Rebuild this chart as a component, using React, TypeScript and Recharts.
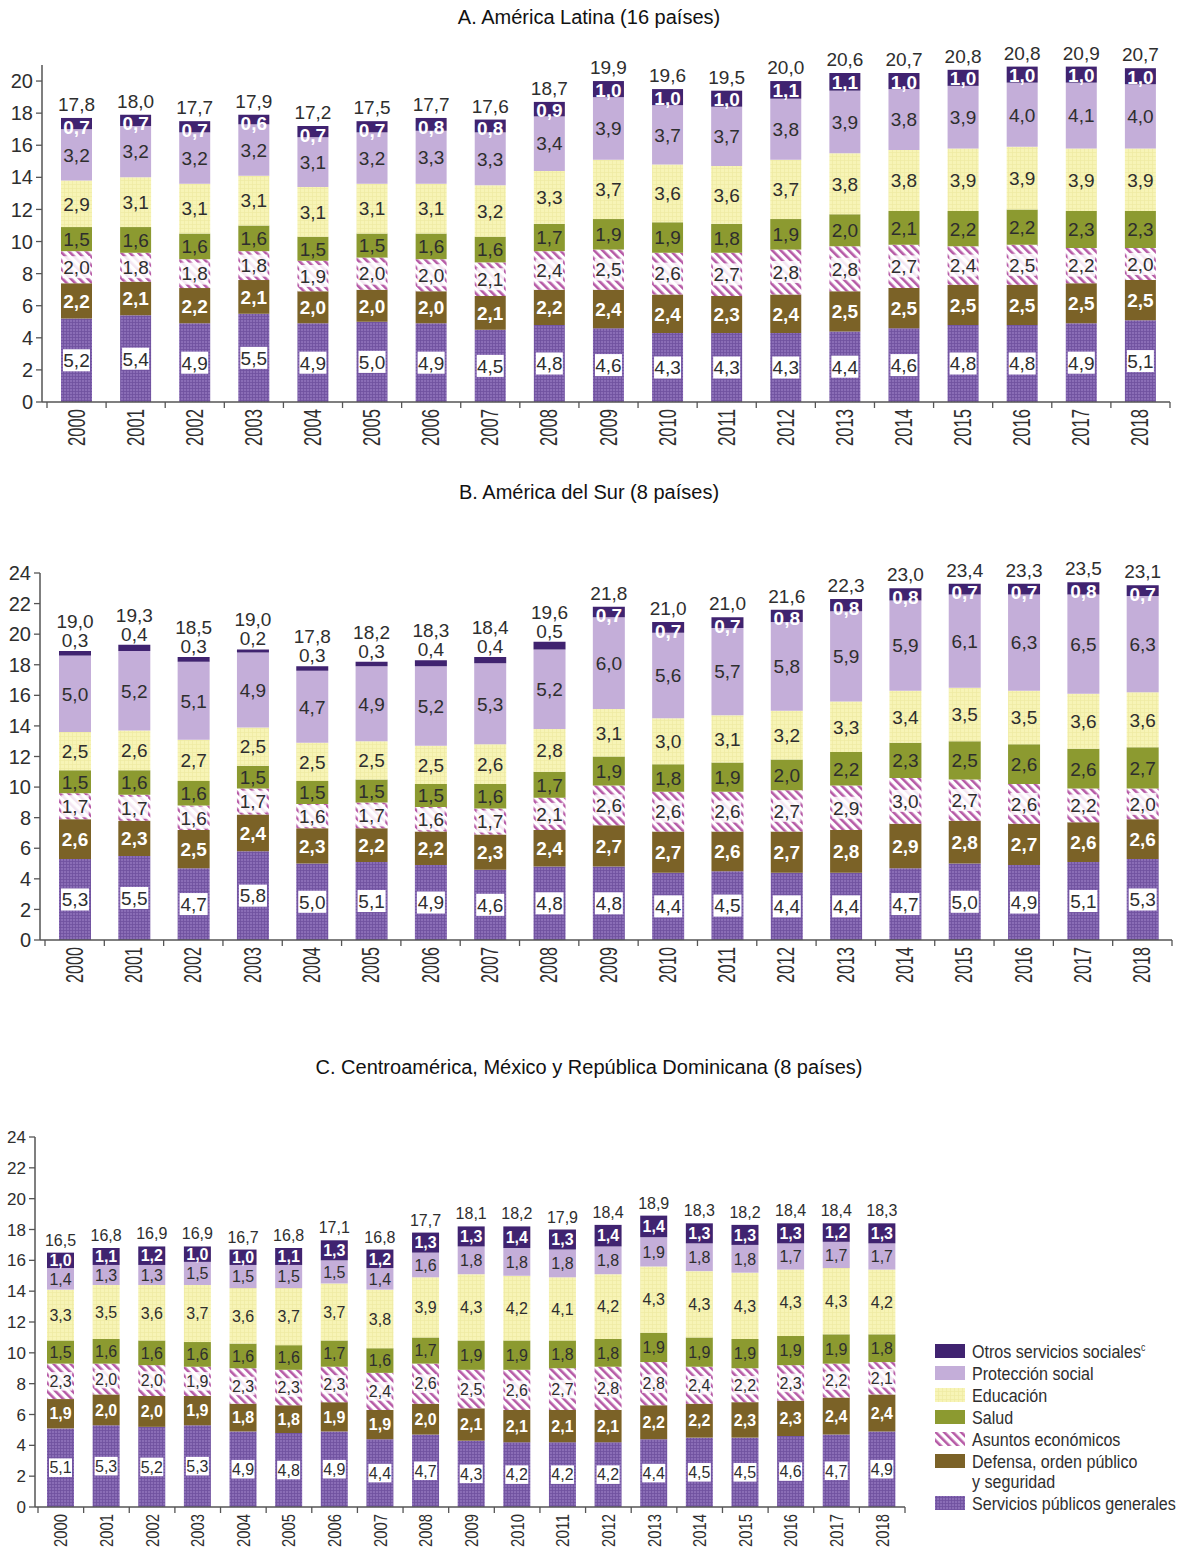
import React from 'react';
import { BarChart, Bar, XAxis, YAxis, LabelList } from 'recharts';

const years = ['2000','2001','2002','2003','2004','2005','2006','2007','2008','2009','2010','2011','2012','2013','2014','2015','2016','2017','2018'];

// Panel A. América Latina (16 países)
const A_serv = [5.2,5.4,4.9,5.5,4.9,5.0,4.9,4.5,4.8,4.6,4.3,4.3,4.3,4.4,4.6,4.8,4.8,4.9,5.1];
const A_def = [2.2,2.1,2.2,2.1,2.0,2.0,2.0,2.1,2.2,2.4,2.4,2.3,2.4,2.5,2.5,2.5,2.5,2.5,2.5];
const A_asun = [2.0,1.8,1.8,1.8,1.9,2.0,2.0,2.1,2.4,2.5,2.6,2.7,2.8,2.8,2.7,2.4,2.5,2.2,2.0];
const A_sal = [1.5,1.6,1.6,1.6,1.5,1.5,1.6,1.6,1.7,1.9,1.9,1.8,1.9,2.0,2.1,2.2,2.2,2.3,2.3];
const A_edu = [2.9,3.1,3.1,3.1,3.1,3.1,3.1,3.2,3.3,3.7,3.6,3.6,3.7,3.8,3.8,3.9,3.9,3.9,3.9];
const A_prot = [3.2,3.2,3.2,3.2,3.1,3.2,3.3,3.3,3.4,3.9,3.7,3.7,3.8,3.9,3.8,3.9,4.0,4.1,4.0];
const A_otros = [0.7,0.7,0.7,0.6,0.7,0.7,0.8,0.8,0.9,1.0,1.0,1.0,1.1,1.1,1.0,1.0,1.0,1.0,1.0];
const A_total = [17.8,18.0,17.7,17.9,17.2,17.5,17.7,17.6,18.7,19.9,19.6,19.5,20.0,20.6,20.7,20.8,20.8,20.9,20.7];

// Panel B. América del Sur (8 países)
const B_serv = [5.3,5.5,4.7,5.8,5.0,5.1,4.9,4.6,4.8,4.8,4.4,4.5,4.4,4.4,4.7,5.0,4.9,5.1,5.3];
const B_def = [2.6,2.3,2.5,2.4,2.3,2.2,2.2,2.3,2.4,2.7,2.7,2.6,2.7,2.8,2.9,2.8,2.7,2.6,2.6];
const B_asun = [1.7,1.7,1.6,1.7,1.6,1.7,1.6,1.7,2.1,2.6,2.6,2.6,2.7,2.9,3.0,2.7,2.6,2.2,2.0];
const B_sal = [1.5,1.6,1.6,1.5,1.5,1.5,1.5,1.6,1.7,1.9,1.8,1.9,2.0,2.2,2.3,2.5,2.6,2.6,2.7];
const B_edu = [2.5,2.6,2.7,2.5,2.5,2.5,2.5,2.6,2.8,3.1,3.0,3.1,3.2,3.3,3.4,3.5,3.5,3.6,3.6];
const B_prot = [5.0,5.2,5.1,4.9,4.7,4.9,5.2,5.3,5.2,6.0,5.6,5.7,5.8,5.9,5.9,6.1,6.3,6.5,6.3];
const B_otros = [0.3,0.4,0.3,0.2,0.3,0.3,0.4,0.4,0.5,0.7,0.7,0.7,0.8,0.8,0.8,0.7,0.7,0.8,0.7];
const B_total = [19.0,19.3,18.5,19.0,17.8,18.2,18.3,18.4,19.6,21.8,21.0,21.0,21.6,22.3,23.0,23.4,23.3,23.5,23.1];

// Panel C. Centroamérica, México y República Dominicana (8 países)
const C_serv = [5.1,5.3,5.2,5.3,4.9,4.8,4.9,4.4,4.7,4.3,4.2,4.2,4.2,4.4,4.5,4.5,4.6,4.7,4.9];
const C_def = [1.9,2.0,2.0,1.9,1.8,1.8,1.9,1.9,2.0,2.1,2.1,2.1,2.1,2.2,2.2,2.3,2.3,2.4,2.4];
const C_asun = [2.3,2.0,2.0,1.9,2.3,2.3,2.3,2.4,2.6,2.5,2.6,2.7,2.8,2.8,2.4,2.2,2.3,2.2,2.1];
const C_sal = [1.5,1.6,1.6,1.6,1.6,1.6,1.7,1.6,1.7,1.9,1.9,1.8,1.8,1.9,1.9,1.9,1.9,1.9,1.8];
const C_edu = [3.3,3.5,3.6,3.7,3.6,3.7,3.7,3.8,3.9,4.3,4.2,4.1,4.2,4.3,4.3,4.3,4.3,4.3,4.2];
const C_prot = [1.4,1.3,1.3,1.5,1.5,1.5,1.5,1.4,1.6,1.8,1.8,1.8,1.8,1.9,1.8,1.8,1.7,1.7,1.7];
const C_otros = [1.0,1.1,1.2,1.0,1.0,1.1,1.3,1.2,1.3,1.3,1.4,1.3,1.4,1.4,1.3,1.3,1.3,1.2,1.3];
const C_total = [16.5,16.8,16.9,16.9,16.7,16.8,17.1,16.8,17.7,18.1,18.2,17.9,18.4,18.9,18.3,18.2,18.4,18.4,18.3];

const ticksA = [0,2,4,6,8,10,12,14,16,18,20];
const ticksBC = [0,2,4,6,8,10,12,14,16,18,20,22,24];

const SERIES = [
  { key: 'serv', name: 'Servicios públicos generales', fill: 'url(#pServ)' },
  { key: 'def', name: 'Defensa, orden público|y seguridad', fill: '#7b6227' },
  { key: 'asun', name: 'Asuntos económicos', fill: 'url(#pAsun)' },
  { key: 'sal', name: 'Salud', fill: '#8c9a30' },
  { key: 'edu', name: 'Educación', fill: 'url(#pEdu)' },
  { key: 'prot', name: 'Protección social', fill: '#c4aed9' },
  { key: 'otros', name: 'Otros servicios sociales', fill: '#402370' },
];

function build(serv: number[], def: number[], asun: number[], sal: number[], edu: number[], prot: number[], otros: number[], total: number[]) {
  return years.map((y, i) => ({
    year: y, serv: serv[i], def: def[i], asun: asun[i], sal: sal[i], edu: edu[i], prot: prot[i], otros: otros[i], total: total[i],
  }));
}

const dataA = build(A_serv, A_def, A_asun, A_sal, A_edu, A_prot, A_otros, A_total);
const dataB = build(B_serv, B_def, B_asun, B_sal, B_edu, B_prot, B_otros, B_total);
const dataC = build(C_serv, C_def, C_asun, C_sal, C_edu, C_prot, C_otros, C_total);

const FONT = '"Liberation Sans", Arial, sans-serif';
const TXT = '#2e2e2e';
const fmt = (v: number) => v.toFixed(1).replace('.', ',');

function geom(p: any) {
  const vb = p.viewBox && typeof p.viewBox.width === 'number' ? p.viewBox : p;
  return { x: Number(vb.x), y: Number(vb.y), width: Number(vb.width), height: Number(vb.height) };
}

function makeLabel(kind: string, fs: number) {
  return (p: any) => {
    const { x, y, width, height } = geom(p);
    const v = Number(p.value);
    if (!isFinite(v) || !isFinite(x)) return null;
    const cx = x + width / 2;
    const cy = y + height / 2;
    const t = fmt(v);
    const tw = fs * 1.39;
    if (kind === 'serv' || kind === 'asun') {
      const bw = kind === 'serv' ? Math.min(width - 4, tw + 5) : tw + 1;
      return (
        <g>
          <rect x={cx - bw / 2} y={cy - fs * 0.58} width={bw} height={fs * 1.16} fill="#fff" opacity={kind === 'serv' ? 1 : 0.85} />
          <text x={cx} y={cy} dy="0.36em" textAnchor="middle" fontSize={fs} fill={TXT} fontFamily={FONT}>{t}</text>
        </g>
      );
    }
    if (kind === 'def') {
      return <text x={cx} y={cy} dy="0.36em" textAnchor="middle" fontSize={fs} fontWeight="bold" fill="#fff" fontFamily={FONT}>{t}</text>;
    }
    if (kind === 'otros') {
      if (v < 0.6) {
        return <text x={cx} y={y - 4} textAnchor="middle" fontSize={fs} fill={TXT} fontFamily={FONT}>{t}</text>;
      }
      const base = y + Math.max(height / 2 + 0.36 * fs, 0.82 * fs);
      return <text x={cx} y={base} textAnchor="middle" fontSize={fs} fontWeight="bold" fill="#fff" fontFamily={FONT}>{t}</text>;
    }
    return <text x={cx} y={cy} dy="0.36em" textAnchor="middle" fontSize={fs} fill={TXT} fontFamily={FONT}>{t}</text>;
  };
}

function makeTotal(fs: number, data: any[]) {
  return (p: any) => {
    const { x, y, width } = geom(p);
    const v = Number(p.value);
    const idx = Number(p.index);
    if (!isFinite(v) || !isFinite(x)) return null;
    const small = data[idx] && data[idx].otros < 0.6;
    const ty = small ? y - 4 - fs * 1.0 : y - 7;
    return <text x={x + width / 2} y={ty} textAnchor="middle" fontSize={fs} fill={TXT} fontFamily={FONT}>{fmt(v)}</text>;
  };
}

function YearTick(props: any) {
  const { x, y, payload, index, band, fs, len, count } = props;
  return (
    <g>
      <line x1={x - band / 2} x2={x - band / 2} y1={y} y2={y + 6} stroke="#555" strokeWidth={1.3} />
      {index === count - 1 ? <line x1={x + band / 2} x2={x + band / 2} y1={y} y2={y + 6} stroke="#555" strokeWidth={1.3} /> : null}
      <text
        transform={`translate(${x},${y + 7}) rotate(-90)`}
        textAnchor="end"
        dominantBaseline="central"
        fontSize={fs}
        fill={TXT}
        fontFamily={FONT}
        textLength={len}
        lengthAdjust="spacingAndGlyphs"
      >
        {payload.value}
      </text>
    </g>
  );
}

type PanelCfg = {
  data: any[];
  top: number;
  height: number;
  mTop: number;
  mBottom: number;
  xH: number;
  yW: number;
  right: number;
  padL: number;
  max: number;
  ticks: number[];
  barSize: number;
  fs: number;
  tfs: number;
  yfs: number;
  yearFs: number;
  yearLen: number;
};

function Panel(c: PanelCfg) {
  const plotW = 1178 - c.yW - c.right - c.padL;
  const band = plotW / years.length;
  return (
    <div style={{ position: 'absolute', left: 0, top: c.top }}>
      <BarChart
        width={1178}
        height={c.height}
        data={c.data}
        margin={{ top: c.mTop, right: c.right, left: 0, bottom: c.mBottom }}
        barSize={c.barSize}
      >
        <XAxis
          dataKey="year"
          height={c.xH}
          padding={{ left: c.padL, right: 0 }}
          axisLine={{ stroke: '#555', strokeWidth: 1.5 }}
          tickLine={false}
          tickSize={0}
          tickMargin={0}
          interval={0}
          tick={<YearTick band={band} fs={c.yearFs} len={c.yearLen} count={years.length} />}
        />
        <YAxis
          width={c.yW}
          domain={[0, c.max]}
          ticks={c.ticks}
          allowDataOverflow
          axisLine={{ stroke: '#555', strokeWidth: 1.5 }}
          tickLine={{ stroke: '#555', strokeWidth: 1.3 }}
          tickSize={6}
          tickMargin={3}
          tick={{ fontSize: c.yfs, fill: TXT, fontFamily: FONT }}
        />
        {SERIES.map((s) => (
          <Bar key={s.key} dataKey={s.key} stackId="a" fill={s.fill} isAnimationActive={false}>
            <LabelList dataKey={s.key} content={makeLabel(s.key, c.fs)} />
            {s.key === 'otros' ? <LabelList dataKey="total" content={makeTotal(c.tfs, c.data)} /> : null}
          </Bar>
        ))}
      </BarChart>
    </div>
  );
}

function Defs() {
  return (
    <svg width={0} height={0} style={{ position: 'absolute', left: 0, top: 0 }}>
      <defs>
        <pattern id="pServ" width="3" height="3" patternUnits="userSpaceOnUse">
          <rect width="3" height="3" fill="#8a6db6" />
          <path d="M0 0.5H3M0.5 0V3" stroke="#6e519e" strokeWidth="0.8" />
        </pattern>
        <pattern id="pAsun" width="6" height="6" patternUnits="userSpaceOnUse" patternTransform="rotate(-45)">
          <rect width="6" height="6" fill="#ffffff" />
          <rect width="2.6" height="6" fill="#b65aa6" />
        </pattern>
        <pattern id="pEdu" width="4" height="4" patternUnits="userSpaceOnUse">
          <rect width="4" height="4" fill="#f7f4b6" />
          <path d="M0 0.5H4M0.5 0V4" stroke="#eeeaa2" strokeWidth="0.7" />
        </pattern>
      </defs>
    </svg>
  );
}

function Title({ text, y }: { text: string; y: number }) {
  return (
    <div style={{ position: 'absolute', left: 0, top: y - 12, width: 1178, textAlign: 'center', fontFamily: FONT, fontSize: 20, color: '#111', lineHeight: '24px' }}>
      {text}
    </div>
  );
}

const legendOrder = ['otros', 'prot', 'edu', 'sal', 'asun', 'def', 'serv'];

function Legend() {
  const rows: any[] = [];
  let yy = 16;
  legendOrder.forEach((k) => {
    const s = SERIES.find((q) => q.key === k)!;
    const lines = s.name.split('|');
    rows.push(
      <g key={k}>
        <rect x={5} y={yy - 7} width={30} height={14} fill={s.fill} />
        <g transform={`translate(42,${yy}) scale(0.87,1)`}>
          {lines.map((ln, i) => (
            <text key={i} x={0} y={i * 20} dy="0.36em" fontSize={18.5} fill={TXT} fontFamily={FONT}>
              {ln}
              {k === 'otros' ? <tspan fontSize={10} dy={-7}>c</tspan> : null}
            </text>
          ))}
        </g>
      </g>
    );
    yy += 22 + (lines.length - 1) * 20;
  });
  return (
    <svg width={250} height={200} style={{ position: 'absolute', left: 930, top: 1335 }}>
      {rows}
    </svg>
  );
}

export default function App() {
  return (
    <div style={{ position: 'absolute', left: 0, top: 0, width: 1178, height: 1552, background: '#fff', overflow: 'hidden' }}>
      <Defs />
      <Title text="A. América Latina (16 países)" y={17} />
      <Panel data={dataA} top={40} height={420} mTop={25} mBottom={8} xH={50} yW={42} right={8} padL={5}
        max={21} ticks={ticksA} barSize={31} fs={19} tfs={19} yfs={20} yearFs={23} yearLen={37} />
      <Title text="B. América del Sur (8 países)" y={492} />
      <Panel data={dataB} top={540} height={460} mTop={33} mBottom={8} xH={52} yW={40} right={6} padL={5}
        max={24} ticks={ticksBC} barSize={32} fs={19} tfs={19} yfs={20} yearFs={23} yearLen={36} />
      <Title text="C. Centroamérica, México y República Dominicana (8 países)" y={1067} />
      <Panel data={dataC} top={1100} height={452} mTop={37} mBottom={0} xH={45} yW={35} right={273} padL={3}
        max={24} ticks={ticksBC} barSize={27} fs={16} tfs={16} yfs={17} yearFs={19} yearLen={33} />
      <Legend />
    </div>
  );
}
